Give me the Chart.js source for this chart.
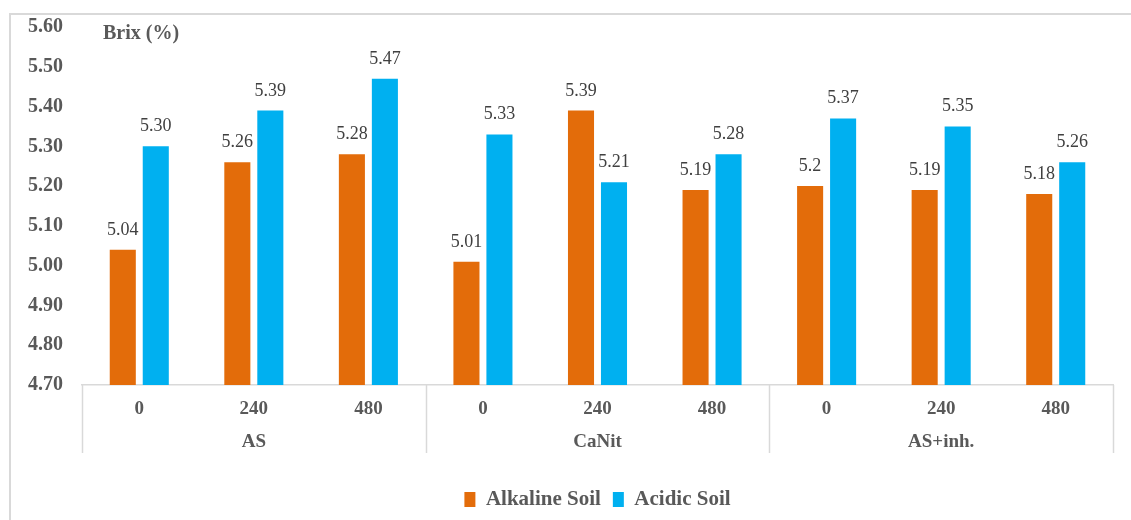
<!DOCTYPE html>
<html>
<head>
<meta charset="utf-8">
<script src="https://cdn.jsdelivr.net/npm/chart.js@4.4.0/dist/chart.umd.min.js"></script>
<style>
  html, body { margin: 0; padding: 0; background: #fff; }
</style>
</head>
<body>
<canvas id="miGrafico" width="1131" height="520"></canvas>
<script>
// Datos del gráfico
var dosis = ["0", "240", "480", "0", "240", "480", "0", "240", "480"];
var grupos = ["AS", "CaNit", "AS+inh."];
var sueloAlcalino = [5.04, 5.26, 5.28, 5.01, 5.39, 5.19, 5.20, 5.19, 5.18];
var sueloAcido = [5.30, 5.39, 5.47, 5.33, 5.21, 5.28, 5.37, 5.35, 5.26];
var etiquetasAlcalino = ["5.04", "5.26", "5.28", "5.01", "5.39", "5.19", "5.2", "5.19", "5.18"];
var etiquetasAcido = ["5.30", "5.39", "5.47", "5.33", "5.21", "5.28", "5.37", "5.35", "5.26"];
var ejeMin = 4.70;
var ejeMax = 5.60;
var paso = 0.10;

var fuente = '"Liberation Serif", "Times New Roman", "DejaVu Serif", serif';
var gris = "#595959";
var lineaGris = "#d9d9d9";

// Etiquetas de valor encima de cada barra
var etiquetasPlugin = {
    id: "etiquetas",
    afterDatasetsDraw: function(chart) {
        var ctx = chart.ctx;
        var textos = [etiquetasAlcalino, etiquetasAcido];
        ctx.save();
        ctx.font = "18px " + fuente;
        ctx.fillStyle = "#404040";
        ctx.textAlign = "center";
        ctx.textBaseline = "alphabetic";
        chart.data.datasets.forEach(function(ds, i) {
            chart.getDatasetMeta(i).data.forEach(function(bar, j) {
                ctx.fillText(textos[i][j], bar.x, bar.y - 15);
            });
        });
        ctx.restore();
    }
};

// Marco exterior, título, separadores y nombres de grupo
var decoracionPlugin = {
    id: "decoracion",
    beforeDraw: function(chart) {
        var ctx = chart.ctx;
        ctx.save();
        ctx.strokeStyle = lineaGris;
        ctx.lineWidth = 2;
        ctx.beginPath();
        ctx.moveTo(10, chart.height + 5);
        ctx.lineTo(10, 14);
        ctx.lineTo(chart.width + 5, 14);
        ctx.stroke();
        ctx.restore();
    },
    afterDraw: function(chart) {
        var ctx = chart.ctx;
        var x = chart.scales.x;
        var area = chart.chartArea;
        ctx.save();
        ctx.font = "bold 20px " + fuente;
        ctx.fillStyle = gris;
        ctx.textAlign = "left";
        ctx.textBaseline = "alphabetic";
        ctx.fillText("Brix (%)", 103, 39);

        // líneas verticales entre grupos
        var bordes = [area.left];
        for (var g = 1; g < grupos.length; g++) {
            bordes.push((x.getPixelForValue(g * 3 - 1) + x.getPixelForValue(g * 3)) / 2);
        }
        bordes.push(area.right);
        ctx.strokeStyle = lineaGris;
        ctx.lineWidth = 1.5;
        bordes.forEach(function(b) {
            ctx.beginPath();
            ctx.moveTo(Math.round(b) + 0.5, area.bottom);
            ctx.lineTo(Math.round(b) + 0.5, area.bottom + 68);
            ctx.stroke();
        });

        ctx.font = "bold 19px " + fuente;
        ctx.textAlign = "center";
        ctx.textBaseline = "middle";
        grupos.forEach(function(nombre, g) {
            ctx.fillText(nombre, (bordes[g] + bordes[g + 1]) / 2, area.bottom + 57);
        });
        ctx.restore();
    }
};

function dibujar() {
    var ctx = document.getElementById("miGrafico").getContext("2d");
    new Chart(ctx, {
        type: "bar",
        data: {
            labels: dosis,
            datasets: [
                { label: "Alkaline Soil", data: sueloAlcalino, backgroundColor: "#E36C0A" },
                { label: "Acidic Soil", data: sueloAcido, backgroundColor: "#00B0F0" }
            ]
        },
        options: {
            responsive: false,
            animation: false,
            categoryPercentage: 0.576,
            barPercentage: 0.79,
            layout: { padding: { top: 27, right: 18, left: 0, bottom: 0 } },
            scales: {
                x: {
                    grid: { display: false },
                    border: { display: true, color: lineaGris, width: 1.5 },
                    ticks: {
                        padding: 5,
                        color: gris,
                        font: { family: fuente, size: 19, weight: "bold" }
                    },
                    afterFit: function(scale) { scale.height = 92; }
                },
                y: {
                    min: ejeMin,
                    max: ejeMax,
                    grid: { display: false },
                    border: { display: false },
                    ticks: {
                        stepSize: paso,
                        padding: 11,
                        color: gris,
                        font: { family: fuente, size: 20, weight: "bold" },
                        callback: function(v) { return Number(v).toFixed(2); }
                    },
                    afterFit: function(scale) { scale.width = 82; }
                }
            },
            plugins: {
                legend: {
                    position: "bottom",
                    fullSize: false,
                    labels: {
                        boxWidth: 11,
                        boxHeight: 15,
                        padding: 12,
                        color: gris,
                        font: { family: fuente, size: 21, weight: "bold" }
                    }
                },
                tooltip: { enabled: false }
            }
        },
        plugins: [etiquetasPlugin, decoracionPlugin]
    });
}

// esperar a que la fuente esté lista antes de dibujar
if (document.fonts && document.fonts.load) {
    Promise.all([
        document.fonts.load('bold 20px "Liberation Serif"'),
        document.fonts.load('18px "Liberation Serif"')
    ]).then(dibujar, dibujar);
} else {
    dibujar();
}
</script>
</body>
</html>
